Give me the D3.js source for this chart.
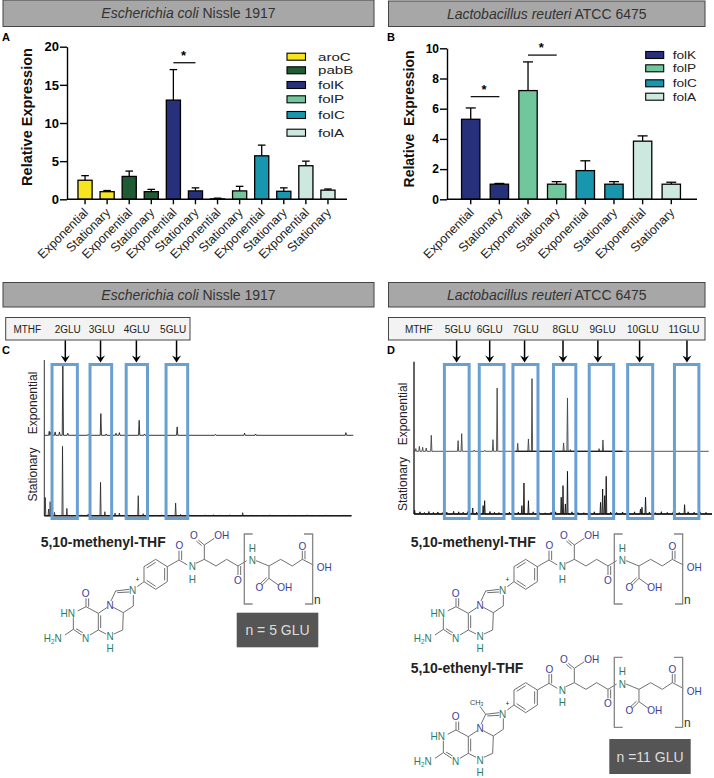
<!DOCTYPE html>
<html>
<head>
<meta charset="utf-8">
<title>Folate expression and polyglutamates</title>
<script src="https://cdn.jsdelivr.net/npm/d3@7"></script>
<style>
	html, body { margin: 0; padding: 0; background: #fff; }
	svg { display: block; }
	text { font-family: "Liberation Sans", Arial, sans-serif; }
</style>
</head>
<body>
<div id="chart"></div>
<script>
"use strict";

//
//	Expression data, panels A and B
//
var growthPhases = ["Exponential", "Stationary"];

var genesA = ["aroC", "pabB", "folK", "folP", "folC", "folA"];
var valuesA = [2.5, 1, 3, 1, 13, 1.1, 0.05, 1.1, 5.7, 1.05, 4.4, 1.2];
var errorTopsA = [3.1, 1.15, 3.7, 1.3, 17, 1.5, 0.15, 1.7, 7.1, 1.5, 5, 1.35];

var genesB = ["folK", "folP", "folC", "folA"];
var valuesB = [5.3, 1, 7.2, 1, 1.9, 1, 3.85, 1];
var errorTopsB = [6.05, 1.05, 9.1, 1.17, 2.55, 1.17, 4.2, 1.13];

var ticksA = [0, 5, 10, 15, 20];
var ticksB = [0, 2, 4, 6, 8, 10];

var geneColors = {
	aroC: "#f6e51f", pabB: "#1f5b33", folK: "#27307b",
	folP: "#72c69c", folC: "#1896ae", folA: "#cde8de"
};

//	significance bars: first bar, last bar, level
var sigA = [[4, 5, 17.9]];
var sigB = [[0, 1, 6.8], [2, 3, 9.55]];

//
//	Chromatogram peaks [retention, intensity], panels C and D
//
var peaksCExp = [[1.6, 5.7], [2, 4.8], [3.5, 4.8], [4.9, 4.8], [6, 100], [7.6, 2.9], [14.2, 1.4], [18.3, 31], [20, 1.9],
	[23.2, 2.9], [24.3, 3.8], [30.7, 21.4], [32.4, 1.9], [43, 12], [55.4, 1.4], [64.8, 3.3], [68.4, 1.9], [97.6, 3.8]];
var peaksCStat = [[0.3, 26], [1.4, 9.5], [1.9, 20], [3.3, 4.8], [5.9, 99], [7.3, 10.5], [14.2, 2.4], [18.2, 47.6], [19.6, 5.7],
	[22.9, 3.8], [24.3, 3.8], [30.4, 28.6], [32, 2.9], [42.5, 18], [44.1, 1.9], [54.7, 1.4], [64.2, 4.3],
	[10, 1], [12, 1.2], [16, 1.1], [27, 1.3], [36, 1.1], [38, 1.3], [47, 1.2], [50, 1], [52, 1.2], [57, 1.1], [60, 1.3],
	[67, 1.1], [70, 1], [73, 1.2], [76, 1], [79, 1.1], [82, 1], [85, 1.2], [88, 1], [91, 1.1], [94, 1], [97, 1.1]];
var peaksDExp = [[0.6, 3.7], [1.8, 6.9], [2.9, 5.5], [4.1, 4.6], [5.8, 22], [14.8, 14.7], [16, 24.3], [20.2, 1.8], [23.8, 1.4],
	[26.5, 16], [27.9, 87], [34.8, 11], [38.4, 17], [39.6, 100], [50.2, 11.5], [51.5, 73.4], [52.5, 2.3], [62.1, 3.7], [63.4, 15.6], [67, 0.9]];
var peaksDStat = [[0.2, 5.5], [13.3, 3.7], [19.7, 8.3], [23.2, 11.5], [23.7, 18.3], [36.2, 11.5], [36.9, 42.7], [38.4, 18.3],
	[49.4, 23], [50, 39], [50.8, 13.8], [51.5, 58.7], [62.6, 16], [63.3, 34.4], [64, 25.2], [64.5, 51.8], [76, 6.9], [76.5, 9.2], [77.7, 23], [90.8, 12.8],
	[2, 3], [3.5, 2], [5, 3.4], [6.5, 2.2], [8, 2.8], [9.5, 1.8], [11, 2.6], [15, 3], [16.5, 2.4], [18, 3.2], [21, 2.6], [25.5, 3.4], [27, 2.4], [28.5, 2],
	[30.5, 1.6], [32, 2.6], [33.5, 2], [35, 2.8], [40, 3], [42, 2], [44, 1.6], [46, 2.4], [47.5, 3], [53, 3], [55, 2], [57, 1.8], [59, 2.6], [60.5, 3],
	[66, 2.6], [68, 2], [70, 2.8], [72, 1.8], [74, 3], [79, 2.8], [81, 1.8], [83, 3.2], [85, 2.2], [87, 3], [89, 2], [92, 3], [94, 2.4], [96, 3], [98, 2.2]];

var labelsC = ["MTHF", "2GLU", "3GLU", "4GLU", "5GLU"];
var labelTimesC = [-5.5, 7.6, 18.6, 29.9, 41.7];
var arrowTimesC = [6.8, 18.2, 29.8, 42.8];
var windowsC = [[2.5, 10.7], [14.8, 21.8], [26.5, 33.4], [39.4, 46.4]];

var labelsD = ["MTHF", "5GLU", "6GLU", "7GLU", "8GLU", "9GLU", "10GLU", "11GLU"];
var labelTimesD = [1.6, 14.7, 25.4, 37.5, 50.9, 63.3, 76.8, 90.6];
var arrowTimesD = [14.3, 25.4, 37.1, 50, 61.7, 75.7, 91.6];
var windowsD = [[10.2, 18.5], [21.9, 30.2], [33.2, 41.6], [46.8, 54.3], [58.8, 67], [71.7, 80.1], [87.4, 95.6]];

var svg = d3.select("#chart").append("svg").attr("width", 714).attr("height", 778);

//
//	Grey title strip, species name in italics
//
function drawHeader(x0, x1, y0, y1, species, strain){
	svg.append("rect").attr("x", x0).attr("y", y0).attr("width", x1 - x0).attr("height", y1 - y0)
		.attr("fill", "#a7a7a7").attr("stroke", "#444").attr("stroke-width", 1);
	var t = svg.append("text").attr("x", (x0 + x1) / 2).attr("y", (y0 + y1) / 2 + 5)
		.attr("text-anchor", "middle").attr("font-size", 14).attr("fill", "#333");
	t.append("tspan").attr("font-style", "italic").text(species);
	t.append("tspan").text(" " + strain);
}

function drawPanelLetter(letter, x, y){
	svg.append("text").attr("x", x).attr("y", y).attr("font-size", 11).attr("font-weight", "bold").text(letter);
}

//
//	Bar panel with upward error bars
//
function drawBars(o){
	var n = o.values.length;
	var labels = d3.range(n).map(function(i){ return i; });
	var x = d3.scaleBand().domain(labels).range(o.xRange).paddingInner(o.padding).paddingOuter(o.padding / 2);
	var y = d3.scaleLinear().domain([0, o.ticks[o.ticks.length - 1]]).range(o.yRange);

	var g = svg.append("g");
	var bw = x.bandwidth();

	o.values.forEach(function(v, i){
		var gene = o.genes[Math.floor(i / 2)];
		var cx = x(i) + bw / 2;
		g.append("line").attr("x1", cx).attr("x2", cx).attr("y1", y(v)).attr("y2", y(o.errorTops[i]))
			.attr("stroke", "#000").attr("stroke-width", 1.3);
		g.append("line").attr("x1", cx - o.cap).attr("x2", cx + o.cap).attr("y1", y(o.errorTops[i])).attr("y2", y(o.errorTops[i]))
			.attr("stroke", "#000").attr("stroke-width", 1.3);
		g.append("rect").attr("x", x(i)).attr("y", y(v)).attr("width", bw).attr("height", y(0) - y(v))
			.attr("fill", geneColors[gene]).attr("stroke", "#000").attr("stroke-width", 1.3);
	});

	var yAxis = d3.axisLeft(y).tickValues(o.ticks).tickSize(7).tickPadding(1).tickSizeOuter(0);
	var ya = g.append("g").attr("transform", "translate(" + o.axisX + ",0)").call(yAxis);
	ya.selectAll("text").attr("font-size", o.tickFont).attr("font-weight", "bold").attr("font-family", null).attr("fill", "#000");
	ya.selectAll("path,line").attr("stroke", "#000").attr("stroke-width", 1.4);

	var xa = g.append("g").attr("transform", "translate(0," + y(0) + ")")
		.call(d3.axisBottom(x).tickSize(5).tickSizeOuter(0).tickFormat(function(i){ return growthPhases[i % 2]; }));
	xa.select("path").attr("d", "M" + o.axisX + ",0H" + o.axisEnd).attr("stroke", "#000").attr("stroke-width", 1.4);
	xa.selectAll("line").attr("stroke", "#000").attr("stroke-width", 1.4);
	xa.selectAll("text").attr("font-size", o.labelFont).attr("font-family", null).attr("fill", "#222")
		.attr("text-anchor", "end").attr("dx", 0).attr("dy", 0).attr("y", 0)
		.attr("transform", "translate(4,14) rotate(-45)");

	svg.append("text").attr("transform", "translate(" + o.titleX + "," + o.titleY + ") rotate(-90)")
		.attr("text-anchor", "middle").attr("font-size", o.titleFont).attr("font-weight", "bold").attr("fill", "#111")
		.attr("xml:space", "preserve").style("white-space", "pre").text(o.title);

	o.sig.forEach(function(s){
		var xa0 = x(s[0]) + bw / 2, xa1 = x(s[1]) + bw / 2;
		g.append("line").attr("x1", xa0).attr("x2", xa1).attr("y1", y(s[2])).attr("y2", y(s[2]))
			.attr("stroke", "#111").attr("stroke-width", 1.3);
		g.append("text").attr("x", (xa0 + xa1) / 2 - 1).attr("y", y(s[2]) - 3).attr("text-anchor", "middle")
			.attr("font-size", 13).attr("font-weight", "bold").text("*");
	});

	//	legend names are wide and low in the original, so they get stretched sideways
	o.genes.forEach(function(gene, i){
		g.append("rect").attr("x", o.legendX).attr("y", o.legendY[i] - 3.5).attr("width", o.legendW).attr("height", 7)
			.attr("fill", geneColors[gene]).attr("stroke", "#000").attr("stroke-width", 1.1);
		var t = g.append("text").attr("x", o.legendTextX).attr("y", o.legendY[i] + 4).attr("font-size", o.legendFont).attr("fill", "#222").text(gene);
		t.attr("textLength", t.node().getComputedTextLength() * o.legendStretch).attr("lengthAdjust", "spacingAndGlyphs");
	});
}

//
//	Turn a peak list into a polyline with thin triangular spikes
//
function peakTrace(peaks, width, t0, t1){
	var sorted = peaks.slice().sort(function(a, b){ return a[0] - b[0]; });
	var pts = [[t0, 0]];
	sorted.forEach(function(p){
		pts.push([p[0] - width, 0], [p[0], p[1]], [p[0] + width, 0]);
	});
	pts.push([t1, 0]);
	return pts;
}

function drawTrace(x, y, peaks, t1, color, sw, width){
	var line = d3.line().x(function(d){ return x(d[0]); }).y(function(d){ return y(d[1]); });
	svg.append("path").attr("d", line(peakTrace(peaks, width, 0, t1))).attr("fill", "none")
		.attr("stroke", color).attr("stroke-width", sw).attr("stroke-linejoin", "round");
}

function drawBaseline(x, y, t0, t1, color, sw){
	svg.append("line").attr("x1", x(t0)).attr("x2", x(t1)).attr("y1", y(0)).attr("y2", y(0))
		.attr("stroke", color).attr("stroke-width", sw);
}

//
//	Label strip, arrows and blue windows above the chromatograms
//
function drawWindows(o){
	var x = o.x;
	svg.append("rect").attr("x", o.boxX0).attr("y", 317.5).attr("width", o.boxX1 - o.boxX0).attr("height", 22.5)
		.attr("fill", "#f3f3f3").attr("stroke", "#444").attr("stroke-width", 1);
	o.labels.forEach(function(l, i){
		svg.append("text").attr("x", x(o.labelTimes[i])).attr("y", 332.5).attr("text-anchor", "middle")
			.attr("font-size", 10).attr("fill", "#222").text(l);
	});
	o.windows.forEach(function(w){
		svg.append("rect").attr("x", x(w[0])).attr("y", 364.5).attr("width", x(w[1]) - x(w[0])).attr("height", 154)
			.attr("fill", "none").attr("stroke", "#6a9fd2").attr("stroke-width", 3);
	});
	o.arrows.forEach(function(t){
		var ax = x(t);
		svg.append("line").attr("x1", ax).attr("x2", ax).attr("y1", 340.5).attr("y2", 360)
			.attr("stroke", "#000").attr("stroke-width", 1.5);
		svg.append("path").attr("d", "M" + (ax - 4.5) + ",355.5L" + ax + ",362.5L" + (ax + 4.5) + ",355.5L" + ax + ",358Z").attr("fill", "#000");
	});
}

function drawPhaseLabel(text, x, y){
	svg.append("text").attr("transform", "translate(" + x + "," + y + ") rotate(-90)").attr("text-anchor", "middle")
		.attr("font-size", 12).attr("fill", "#222").text(text);
}

//
//	5,10-methenyl / ethenyl THF skeleton, coordinates are 3x page pixels
//
var BOND_GREY = "#6f6f6f", ATOM_GREEN = "#2f7a5f", ATOM_BLUE = "#3d3d96";

var skeletonBonds = [
	[342,110,377,88],[377,88,412,110],[412,110,412,155],[412,155,377,178],[377,178,342,155],[342,155,342,110],
	[350,114,377,97],[404,114,404,151],[377,169,350,151],[342,155,322,170],
	[412,110,447,90],[447,90,447,62],[455,90,455,62],[447,90,472,105],[498,100,523,88],
	[523,88,523,45],[523,45,505,30],[515,47,499,33],[523,45,553,25],
	[523,88,558,108],[558,108,590,88],[590,88,624,108],[624,108,624,135],[632,108,632,135],[624,108,650,92],
	[678,92,717,108],[717,108,717,145],[717,145,697,165],[710,143,692,160],[717,145,745,165],
	[717,108,752,88],[752,88,787,108],[787,108,817,88],[817,88,817,62],[825,88,825,62],[817,88,850,105],
	[298,178,257,183],[298,186,262,188],[257,183,243,213],[250,232,280,248],[280,248,310,228],[310,228,310,195],
	[232,232,205,250],[205,250,205,300],[212,256,212,294],[205,300,228,312],[252,312,278,300],[278,300,280,248],
	[205,250,168,230],[168,230,168,205],[176,230,176,205],[168,230,143,243],[130,262,130,298],
	[130,298,155,315],[138,296,158,308],[180,315,205,300],[130,298,105,315]
];

var skeletonAtoms = [
	["O",448,47,ATOM_BLUE],["N",487,110,ATOM_GREEN],["H",487,147,ATOM_GREEN],["O",492,17,ATOM_BLUE],["OH",575,17,ATOM_BLUE],
	["O",624,150,ATOM_BLUE],["N",667,92,ATOM_GREEN],["H",667,55,ATOM_GREEN],["O",688,172,ATOM_BLUE],["OH",764,172,ATOM_BLUE],
	["O",817,48,ATOM_BLUE],["OH",883,113,ATOM_BLUE],["N",308,182,ATOM_GREEN],["N",240,225,ATOM_BLUE],
	["O",167,190,ATOM_BLUE],["HN",113,250,ATOM_GREEN],["N",167,325,ATOM_GREEN],["N",240,320,ATOM_GREEN],["H",240,356,ATOM_GREEN]
];

function drawMolecule(ox, oy, shift, title, titleY, methyl){
	var g = svg.append("g").attr("transform", "translate(" + ox + "," + oy + ") scale(0.3333)");
	g.append("text").attr("x", 32).attr("y", titleY).attr("font-size", 42).attr("font-weight", "bold").attr("fill", "#222").text(title);

	var m = g.append("g").attr("transform", "translate(0," + shift + ")");
	var bonds = skeletonBonds.slice();
	if(methyl){ bonds.push([240,159,257,183]); }
	bonds.forEach(function(b){
		m.append("line").attr("x1", b[0]).attr("y1", b[1]).attr("x2", b[2]).attr("y2", b[3])
			.attr("stroke", BOND_GREY).attr("stroke-width", 3);
	});
	["M668,12H643V222H668", "M822,12H848V222H825"].forEach(function(d){
		m.append("path").attr("d", d).attr("fill", "none").attr("stroke", "#888").attr("stroke-width", 4);
	});
	skeletonAtoms.forEach(function(a){
		m.append("text").attr("x", a[1]).attr("y", a[2] + 11).attr("text-anchor", "middle")
			.attr("font-size", 30).attr("fill", a[3]).text(a[0]);
	});
	var amine = m.append("text").attr("x", 68).attr("y", 336).attr("text-anchor", "middle").attr("font-size", 30).attr("fill", ATOM_GREEN);
	amine.append("tspan").text("H");
	amine.append("tspan").attr("font-size", 19).attr("dy", 5).text("2");
	amine.append("tspan").attr("dy", -5).text("N");
	m.append("text").attr("x", 322).attr("y", 157).attr("text-anchor", "middle").attr("font-size", 20).attr("fill", "#222").text("+");
	m.append("text").attr("x", 862).attr("y", 222).attr("text-anchor", "middle").attr("font-size", 36).attr("fill", "#333").text("n");
	if(methyl){
		var ch = m.append("text").attr("x", 230).attr("y", 156).attr("text-anchor", "middle").attr("font-size", 22).attr("fill", "#444");
		ch.append("tspan").text("CH");
		ch.append("tspan").attr("font-size", 15).attr("dy", 3).text("3");
	}
}

function drawNBox(x, y, w, h, label){
	svg.append("rect").attr("x", x).attr("y", y).attr("width", w).attr("height", h).attr("fill", "#555");
	svg.append("text").attr("x", x + w / 2).attr("y", y + h / 2 + 5).attr("text-anchor", "middle")
		.attr("font-size", 14).attr("fill", "#ddd").text(label);
}

//
//	Top row
//
drawHeader(3, 374, 0, 26.5, "Escherichia coli", "Nissle 1917");
drawHeader(388.5, 705, 1, 26.5, "Lactobacillus reuteri", "ATCC 6475");
drawPanelLetter("A", 2, 41);
drawPanelLetter("B", 387, 41);

drawBars({
	values: valuesA, errorTops: errorTopsA, genes: genesA, ticks: ticksA, sig: sigA,
	xRange: [74, 339], yRange: [199.3, 46.7], padding: 0.36, cap: 3.8,
	axisX: 67, axisEnd: 347, tickFont: 13, labelFont: 12.5,
	title: "Relative Expression", titleX: 32, titleY: 117, titleFont: 14.5,
	legendX: 287, legendW: 18.5, legendTextX: 318, legendFont: 11.6, legendStretch: 1.3, legendY: [56.7, 70.3, 85, 99.3, 115, 132.7]
});

drawBars({
	values: valuesB, errorTops: errorTopsB, genes: genesB, ticks: ticksB, sig: sigB,
	xRange: [456.4, 685.6], yRange: [199.3, 48.3], padding: 0.36, cap: 5,
	axisX: 447, axisEnd: 697, tickFont: 12, labelFont: 12.5,
	title: "Relative  Expression", titleX: 414, titleY: 119, titleFont: 14,
	legendX: 645.7, legendW: 18, legendTextX: 672.7, legendFont: 11.4, legendStretch: 1.2, legendY: [55, 68.3, 83.3, 96.7]
});

//
//	Bottom row
//
drawHeader(3, 374, 282.5, 307, "Escherichia coli", "Nissle 1917");
drawHeader(388.5, 705, 282.5, 307, "Lactobacillus reuteri", "ATCC 6475");
drawPanelLetter("C", 2, 354);
drawPanelLetter("D", 387, 354);

var xC = d3.scaleLinear().domain([0, 100]).range([44.3, 353.3]);
var yCExp = d3.scaleLinear().domain([0, 100]).range([435.3, 365.3]);
var yCStat = d3.scaleLinear().domain([0, 100]).range([515.7, 445.7]);

svg.append("line").attr("x1", xC(0)).attr("x2", xC(0)).attr("y1", 360).attr("y2", yCStat(0)).attr("stroke", "#333").attr("stroke-width", 1);
drawTrace(xC, yCExp, peaksCExp, 100, "#222", 0.9, 0.2);
drawBaseline(xC, yCStat, 0, 99.4, "#111", 1.4);
drawTrace(xC, yCStat, peaksCStat, 99.4, "#222", 0.8, 0.18);

drawWindows({ x: xC, boxX0: 5.7, boxX1: 190, labels: labelsC, labelTimes: labelTimesC, windows: windowsC, arrows: arrowTimesC });
drawPhaseLabel("Exponential", 36.5, 403);
drawPhaseLabel("Stationary", 36.5, 474.5);

var xD = d3.scaleLinear().domain([0, 100]).range([414, 712]);
var yDExp = d3.scaleLinear().domain([0, 100]).range([451.3, 378.6]);
var yDStat = d3.scaleLinear().domain([0, 100]).range([514, 441.3]);

svg.append("line").attr("x1", xD(0)).attr("x2", xD(0)).attr("y1", 361.7).attr("y2", yDStat(0)).attr("stroke", "#111").attr("stroke-width", 1.3);
drawTrace(xD, yDExp, peaksDExp, 98.9, "#444", 0.9, 0.2);
drawBaseline(xD, yDExp, 34, 70, "#000", 1.1);
drawBaseline(xD, yDStat, 0, 100, "#111", 1.7);
drawTrace(xD, yDStat, peaksDStat, 100, "#111", 0.9, 0.18);

drawWindows({ x: xD, boxX0: 388.5, boxX1: 705, labels: labelsD, labelTimes: labelTimesD, windows: windowsD, arrows: arrowTimesD });
drawPhaseLabel("Exponential", 407, 414);
drawPhaseLabel("Stationary", 407, 484);

drawMolecule(30, 530, 0, "5,10-methenyl-THF", 52, false);
drawNBox(236.7, 612.7, 81.6, 34.6, "n = 5 GLU");
drawMolecule(400, 530, 0, "5,10-methenyl-THF", 52, false);
drawMolecule(400, 650, 10, "5,10-ethenyl-THF", 70, true);
drawNBox(609.3, 739, 81.4, 35, "n =11 GLU");
</script>
</body>
</html>
